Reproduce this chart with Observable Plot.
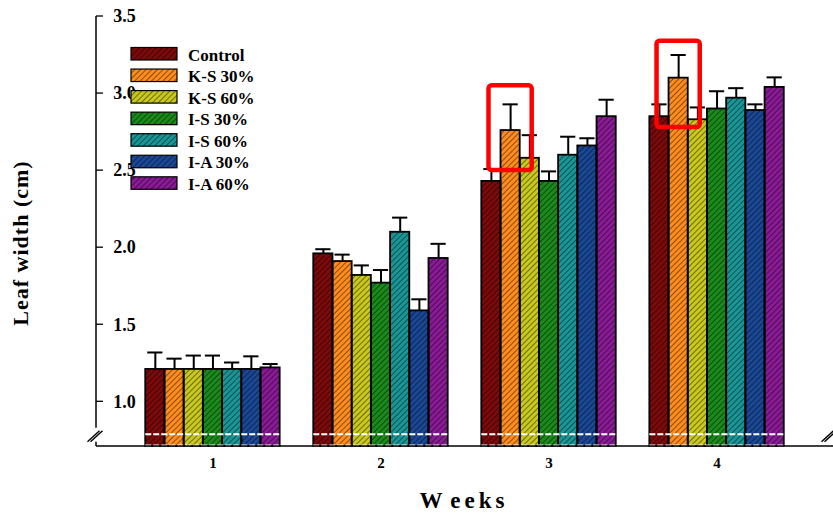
<!DOCTYPE html>
<html>
<head>
<meta charset="utf-8">
<script src="https://cdn.jsdelivr.net/npm/d3@7"></script>
<script src="https://cdn.jsdelivr.net/npm/@observablehq/plot@0.6"></script>
<style>
  html, body { margin: 0; padding: 0; background: #fff; }
  #chart { position: relative; width: 833px; height: 517px; }
</style>
</head>
<body>
<!-- shared diagonal hatch used by the bars and the legend swatches -->
<svg width="0" height="0" style="position:absolute">
  <defs>
    <pattern id="hatch" patternUnits="userSpaceOnUse" width="4" height="4" patternTransform="rotate(45)">
      <line x1="0" y1="0" x2="0" y2="4" stroke="rgba(0,0,0,0.7)" stroke-width="1.3"></line>
    </pattern>
  </defs>
</svg>
<div id="chart"></div>
<script>
// Weeks after treatment and the seven treatment groups
const weeks = [1, 2, 3, 4];
const series = ["Control", "K-S 30%", "K-S 60%", "I-S 30%", "I-S 60%", "I-A 30%", "I-A 60%"];
const colors = ["#7d0a0a", "#ff8c1e", "#c8c81e", "#1a8a1a", "#1a9696", "#1a4896", "#8a1a96"];

// Mean leaf width (cm) per group, one value per week
const control = [1.21, 1.96, 2.43, 2.85];
const ks30    = [1.21, 1.91, 2.76, 3.10];
const ks60    = [1.21, 1.82, 2.58, 2.83];
const is30    = [1.21, 1.77, 2.43, 2.90];
const is60    = [1.21, 2.10, 2.60, 2.97];
const ia30    = [1.21, 1.59, 2.66, 2.89];
const ia60    = [1.22, 1.93, 2.85, 3.04];

// Standard error (upper bar only) per group, one value per week
const controlErr = [0.11, 0.03, 0.08, 0.08];
const ks30Err    = [0.07, 0.045, 0.17, 0.15];
const ks60Err    = [0.09, 0.065, 0.15, 0.08];
const is30Err    = [0.09, 0.085, 0.065, 0.115];
const is60Err    = [0.045, 0.095, 0.12, 0.065];
const ia30Err    = [0.085, 0.075, 0.05, 0.04];
const ia60Err    = [0.025, 0.095, 0.11, 0.065];

// Highlighted bars (K-S 30% in weeks 3 and 4) and the value span of each box
const highlightWeeks = [3, 4];
const highlightSeries = "K-S 30%";
const highlightLow  = [2.50, 2.78];
const highlightHigh = [3.05, 3.34];

// Y axis: ticks, the cut-off floor of the broken axis and the break positions
const yTicks = [1.0, 1.5, 2.0, 2.5, 3.0, 3.5];
const yFloor = 0.71;
const yTop = 3.5;
const breakLines = [0.79, 0.716];
const breakMark = 0.77;

const means = [control, ks30, ks60, is30, is60, ia30, ia60];
const errs = [controlErr, ks30Err, ks60Err, is30Err, is60Err, ia30Err, ia60Err];

const rows = weeks.flatMap((w, i) =>
  series.map((s, j) => ({week: w, series: s, value: means[j][i], err: errs[j][i]}))
);
const highlights = highlightWeeks.map((w, i) => ({
  week: w, series: highlightSeries, lo: highlightLow[i], hi: highlightHigh[i]
}));

const serif = "'Liberation Serif', 'Times New Roman', serif";

const plot = Plot.plot({
  width: 833,
  height: 517,
  marginTop: 16,
  marginBottom: 71,
  marginLeft: 96,
  marginRight: 0,
  style: {fontFamily: serif, fontSize: "18px", fontWeight: "bold", background: "#fff", color: "#000"},
  fx: {domain: weeks, paddingInner: 0.2, paddingOuter: 0.293, align: 0.5, round: false,
       axis: "bottom", tickSize: 0, tickPadding: 11, label: null},
  x: {domain: series, padding: 0, round: false, axis: null},
  y: {domain: [yFloor, yTop], ticks: yTicks, tickFormat: d3.format(".1f"),
      tickSize: 0, tickPadding: 10, label: null},
  color: {domain: series, range: colors},
  marks: [
    Plot.barY(rows, {fx: "week", x: "series", y1: yFloor, y2: "value", fill: "series"}),
    Plot.barY(rows, {fx: "week", x: "series", y1: yFloor, y2: "value",
                     fill: "url(#hatch)", stroke: "#000", strokeWidth: 1.8}),
    Plot.ruleY(breakLines, {stroke: "#fff", strokeWidth: 2, strokeDasharray: "6,2"}),
    Plot.ruleX(rows, {fx: "week", x: "series", y1: "value", y2: d => d.value + d.err,
                      stroke: "#000", strokeWidth: 2}),
    Plot.tickY(rows, {fx: "week", x: "series", y: d => d.value + d.err,
                      stroke: "#000", strokeWidth: 2, insetLeft: 2, insetRight: 2}),
    Plot.barY(highlights, {fx: "week", x: "series", y1: "lo", y2: "hi", fill: "none",
                           stroke: "#ff0000", strokeWidth: 4.5, insetLeft: -12, insetRight: -12, rx: 3})
  ]
});

document.getElementById("chart").appendChild(plot);

// Axis frame, inward ticks, axis breaks, titles and legend
const svg = d3.select(plot);
const ys = plot.scale("y");
const y = d3.scaleLinear(ys.domain, ys.range);
const left = 96, right = 833;
const bottom = y(yFloor);
const yb = y(breakMark);

// value labels (e.g. "2.5") and week labels (e.g. "3") get their own sizes
svg.selectAll("text")
  .filter(function() { return /^\d\.\d$/.test(this.textContent.trim()); })
  .style("font-size", "18px").attr("font-size", "18px");
svg.selectAll("text")
  .filter(function() { return /^\d$/.test(this.textContent.trim()); })
  .style("font-size", "15px").attr("font-size", "15px");

const deco = svg.append("g").attr("stroke", "#000").attr("fill", "none");
// y axis line, interrupted at the break
deco.append("line").attr("x1", left).attr("x2", left).attr("y1", y(yTop)).attr("y2", yb - 9).attr("stroke-width", 1.5);
deco.append("line").attr("x1", left).attr("x2", left).attr("y1", yb + 5).attr("y2", bottom).attr("stroke-width", 1.5);
// x axis line
deco.append("line").attr("x1", left).attr("x2", right).attr("y1", bottom).attr("y2", bottom).attr("stroke-width", 1.5);
// inward y ticks
yTicks.forEach(t => {
  deco.append("line").attr("x1", left).attr("x2", left + 7).attr("y1", y(t)).attr("y2", y(t)).attr("stroke-width", 1.3);
});
// break slashes on both ends
[left - 1, right - 4].forEach(cx => {
  [-1.5, 1.5].forEach(o => {
    deco.append("line")
      .attr("x1", cx - 6 + o).attr("y1", yb + 5)
      .attr("x2", cx + 6 + o).attr("y2", yb - 6)
      .attr("stroke-width", 1.4);
  });
});

// axis titles
svg.append("text")
  .attr("transform", `translate(28,${(y(yTop) + bottom) / 2 + 12}) rotate(-90)`)
  .attr("text-anchor", "middle")
  .style("font-family", serif).style("font-size", "22px").style("font-weight", "bold")
  .style("letter-spacing", "1px")
  .text("Leaf width (cm)");

const xTitle = svg.append("text")
  .attr("x", 464).attr("y", 508)
  .attr("text-anchor", "middle")
  .style("font-family", serif).style("font-size", "23px").style("font-weight", "bold")
  .style("letter-spacing", "4px");
xTitle.append("tspan").text("W");
xTitle.append("tspan").attr("dx", 5).text("eeks");

// legend
const legend = svg.append("g").attr("text-anchor", "start");
series.forEach((s, i) => {
  const top = 47.5 + i * 21.55;
  legend.append("rect").attr("x", 131).attr("y", top).attr("width", 46).attr("height", 12.5)
    .attr("fill", colors[i]);
  legend.append("rect").attr("x", 131).attr("y", top).attr("width", 46).attr("height", 12.5)
    .attr("fill", "url(#hatch)").attr("stroke", "#000").attr("stroke-width", 1.2);
  legend.append("text").attr("x", 188).attr("y", top + 13)
    .attr("text-anchor", "start")
    .style("font-family", serif).style("font-size", "17px").style("font-weight", "bold")
    .text(s);
});
</script>
</body>
</html>
